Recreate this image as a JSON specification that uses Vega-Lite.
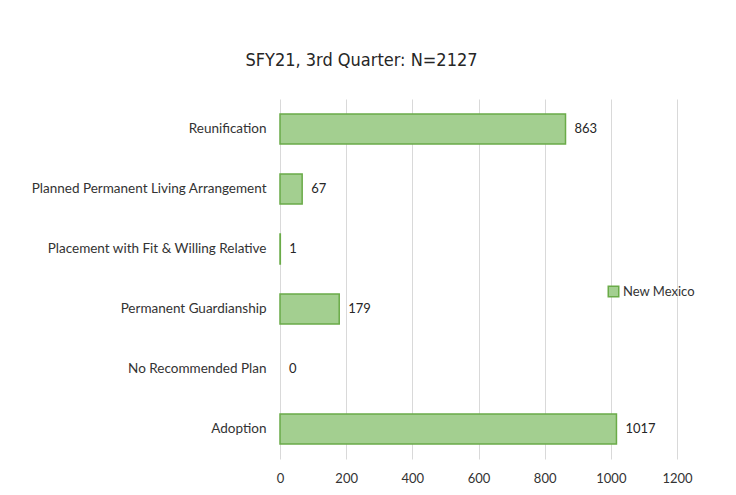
{
  "$schema": "https://vega.github.io/schema/vega-lite/v6.json",
  "autosize": {"type": "none"},
  "width": 397,
  "height": 360,
  "padding": {"left": 280, "top": 99, "right": 59, "bottom": 36},
  "background": "white",
  "config": {"view": {"stroke": null}},
  "title": {
    "text": "SFY21, 3rd Quarter: N=2127",
    "font": "DejaVu Sans Condensed, Roboto Condensed, sans-serif",
    "fontSize": 18,
    "fontWeight": "normal",
    "color": "#262626",
    "anchor": "middle",
    "dx": -117,
    "offset": 29
  },
  "data": {
    "values": [
      {"plan": "Reunification", "count": 863, "series": "New Mexico"},
      {"plan": "Planned Permanent Living Arrangement", "count": 67, "series": "New Mexico"},
      {"plan": "Placement with Fit & Willing Relative", "count": 1, "series": "New Mexico"},
      {"plan": "Permanent Guardianship", "count": 179, "series": "New Mexico"},
      {"plan": "No Recommended Plan", "count": 0, "series": "New Mexico"},
      {"plan": "Adoption", "count": 1017, "series": "New Mexico"}
    ]
  },
  "encoding": {
    "y": {
      "field": "plan",
      "type": "nominal",
      "sort": null,
      "title": null,
      "scale": {"paddingInner": 0.5, "paddingOuter": 0.25},
      "axis": {
        "domain": false,
        "ticks": false,
        "labelPadding": 14,
        "labelFont": "Lato",
        "labelFontSize": 13.5,
        "labelColor": "#333333",
        "labelLimit": 300
      }
    },
    "x": {
      "field": "count",
      "type": "quantitative",
      "title": null,
      "scale": {"domain": [0, 1200], "nice": false},
      "axis": {
        "values": [0, 200, 400, 600, 800, 1000, 1200],
        "format": "d",
        "domain": false,
        "ticks": false,
        "grid": true,
        "gridColor": "#d9d9d9",
        "labelPadding": 13,
        "labelFont": "Lato",
        "labelFontSize": 13,
        "labelColor": "#333333",
        "labelFlush": false
      }
    }
  },
  "layer": [
    {
      "mark": {"type": "bar", "stroke": "#6aab48", "strokeWidth": 1.5},
      "encoding": {
        "color": {
          "field": "series",
          "type": "nominal",
          "scale": {"range": ["#a3cf90"]},
          "legend": {
            "title": null,
            "orient": "none",
            "legendX": 327,
            "legendY": 186,
            "symbolType": "square",
            "symbolSize": 110,
            "symbolStrokeColor": "#6aab48",
            "symbolStrokeWidth": 1.5,
            "labelFont": "Lato",
            "labelFontSize": 13,
            "labelColor": "#333333",
            "labelOffset": 3
          }
        },
        "strokeOpacity": {
          "condition": {"test": "datum.count === 0", "value": 0},
          "value": 1
        }
      }
    },
    {
      "mark": {"type": "text", "align": "left", "dx": 9, "font": "Lato", "fontSize": 13, "color": "#262626"},
      "encoding": {"text": {"field": "count", "type": "quantitative"}}
    }
  ]
}
